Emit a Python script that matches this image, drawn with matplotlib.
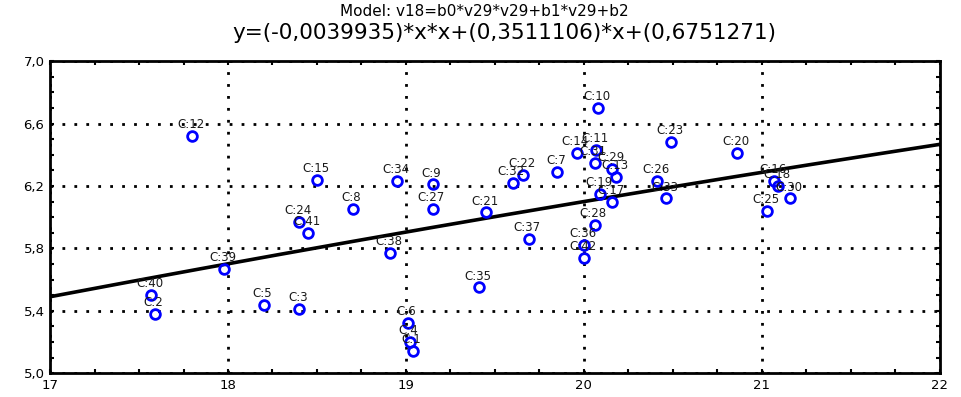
import numpy as np
import matplotlib
matplotlib.use("Agg")
import matplotlib.pyplot as plt
import matplotlib.ticker as ticker

# Case labels and (v29, v18) values
labels = ["C:1", "C:2", "C:3", "C:4", "C:5", "C:6", "C:7", "C:8", "C:9", "C:10",
          "C:11", "C:12", "C:13", "C:14", "C:15", "C:16", "C:17", "C:18", "C:19", "C:20",
          "C:21", "C:22", "C:23", "C:24", "C:25", "C:26", "C:27", "C:28", "C:29", "C:30",
          "C:31", "C:32", "C:33", "C:34", "C:35", "C:36", "C:37", "C:38", "C:39", "C:40",
          "C:41", "C:42"]
v29 = [19.04, 17.59, 18.40, 19.02, 18.20, 19.01, 19.85, 18.70, 19.15, 20.08,
       20.07, 17.80, 20.18, 19.96, 18.50, 21.07, 20.16, 21.09, 20.09, 20.86,
       19.45, 19.66, 20.49, 18.40, 21.03, 20.41, 19.15, 20.06, 20.16, 21.16,
       20.06, 19.60, 20.46, 18.95, 19.41, 20.00, 19.69, 18.91, 17.98, 17.57,
       18.45, 20.00]
v18 = [5.14, 5.38, 5.41, 5.20, 5.44, 5.32, 6.29, 6.05, 6.21, 6.70,
       6.43, 6.52, 6.26, 6.41, 6.24, 6.23, 6.10, 6.20, 6.15, 6.41,
       6.03, 6.27, 6.48, 5.97, 6.04, 6.23, 6.05, 5.95, 6.31, 6.12,
       6.35, 6.22, 6.12, 6.23, 5.55, 5.82, 5.86, 5.77, 5.67, 5.50,
       5.90, 5.74]

x_ticks = [17, 18, 19, 20, 21, 22]
y_ticks = [5.0, 5.4, 5.8, 6.2, 6.6, 7.0]

# fitted model coefficients from the title
b0, b1, b2 = -0.0039935, 0.3511106, 0.6751271

fig = plt.figure(figsize=(9.62, 3.97), dpi=100)
ax = fig.add_axes([0.052, 0.060, 0.925, 0.786])

# dotted grid at major ticks
ax.grid(True, which="major", color="black", linestyle=(0, (1, 3.3)), linewidth=2)
ax.set_axisbelow(True)

# fit curve
xs = np.linspace(17, 22, 200)
ax.plot(xs, b0 * xs * xs + b1 * xs + b2, color="black", linewidth=2.6, zorder=3)

# points and case labels
ax.plot(v29, v18, linestyle="none", marker="o", markersize=7, markerfacecolor="none",
        markeredgecolor="#0000ff", markeredgewidth=2, zorder=4)
for lab, x, y in zip(labels, v29, v18):
    ax.annotate(lab, (x, y), xytext=(-1, 3.5), textcoords="offset points",
                ha="center", va="bottom", fontsize=8.5, color="#1a1a1a", zorder=5)

ax.set_xlim(17, 22)
ax.set_ylim(5.0, 7.0)
ax.xaxis.set_major_locator(ticker.FixedLocator(x_ticks))
ax.xaxis.set_minor_locator(ticker.MultipleLocator(0.25))
ax.yaxis.set_major_locator(ticker.FixedLocator(y_ticks))
ax.yaxis.set_minor_locator(ticker.MultipleLocator(0.1))
ax.xaxis.set_major_formatter(ticker.FuncFormatter(lambda v, p: "%d" % round(v)))
ax.yaxis.set_major_formatter(ticker.FuncFormatter(lambda v, p: ("%.1f" % v).replace(".", ",")))
ax.tick_params(which="both", direction="in", top=True, right=True, width=1.5, labelsize=9.5)
ax.tick_params(which="major", length=3, pad=4)
ax.tick_params(which="minor", length=3)
for s in ax.spines.values():
    s.set_linewidth(2)

fig.text(0.503, 0.970, "Model: v18=b0*v29*v29+b1*v29+b2", ha="center", va="center",
         fontsize=11, family="DejaVu Sans")
fig.text(0.524, 0.917, "y=(-0,0039935)*x*x+(0,3511106)*x+(0,6751271)", ha="center",
         va="center", fontsize=15.5, family="DejaVu Sans")

fig.savefig("out.png", dpi=100)
